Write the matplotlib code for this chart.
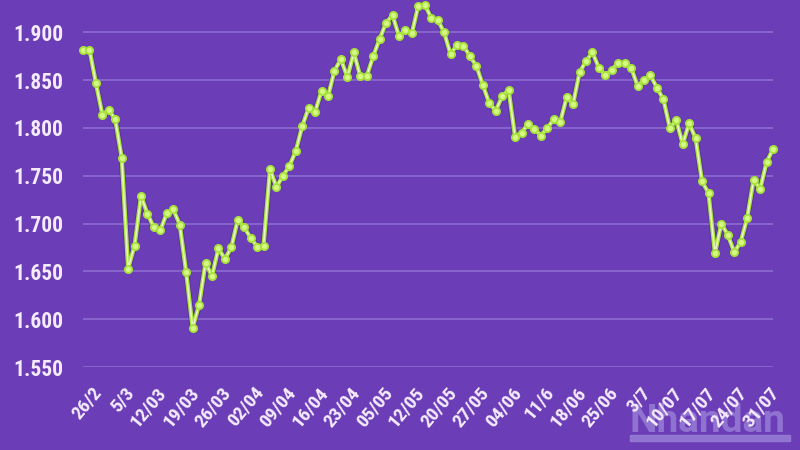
import matplotlib
matplotlib.use("Agg")
import matplotlib.pyplot as plt
import matplotlib.patheffects as pe
from matplotlib.transforms import ScaledTranslation
from matplotlib.patches import Rectangle

values = [
    1.881, 1.882, 1.847, 1.814, 1.819, 1.809, 1.769, 1.653, 1.677, 1.729,
    1.710, 1.696, 1.693, 1.711, 1.715, 1.699, 1.649, 1.591, 1.615, 1.659,
    1.645, 1.674, 1.663, 1.675, 1.704, 1.696, 1.685, 1.676, 1.677, 1.757,
    1.738, 1.750, 1.760, 1.776, 1.802, 1.821, 1.817, 1.839, 1.833, 1.860,
    1.872, 1.853, 1.879, 1.854, 1.854, 1.875, 1.893, 1.910, 1.918, 1.896,
    1.902, 1.899, 1.928, 1.929, 1.915, 1.913, 1.900, 1.877, 1.887, 1.886,
    1.875, 1.865, 1.845, 1.826, 1.818, 1.833, 1.840, 1.791, 1.795, 1.804,
    1.799, 1.792, 1.800, 1.809, 1.806, 1.832, 1.825, 1.858, 1.870, 1.879,
    1.863, 1.855, 1.861, 1.868, 1.868, 1.863, 1.844, 1.850, 1.855, 1.842,
    1.830, 1.800, 1.808, 1.783, 1.805, 1.789, 1.744, 1.732, 1.669, 1.700,
    1.688, 1.670, 1.681, 1.706, 1.746, 1.736, 1.764, 1.778,
]
x_labels = ["26/2", "5/3", "12/03", "19/03", "26/03", "02/04", "09/04", "16/04",
            "23/04", "05/05", "12/05", "20/05", "27/05", "04/06", "11/6", "18/06",
            "25/06", "3/7", "10/07", "17/07", "24/07", "31/07"]
label_step = 5
y_ticks = [1.55, 1.60, 1.65, 1.70, 1.75, 1.80, 1.85, 1.90]
y_tick_labels = ["1.550", "1.600", "1.650", "1.700", "1.750", "1.800", "1.850", "1.900"]

BG = "#6b3db6"
GRID = "#8b68cf"
TXT = "#f4ebff"
FONT = ["Roboto Condensed", "Liberation Sans Narrow", "Roboto", "DejaVu Sans"]

plt.rcParams["font.family"] = FONT

fig = plt.figure(figsize=(8, 4.5), dpi=100)
fig.patch.set_facecolor(BG)

# watermark (behind everything)
fig.text(630 / 800, 1 - 432 / 450, "Nhandan", fontsize=28, fontweight="bold",
         family=["Roboto", "DejaVu Sans"],
         color="#9a80d8", alpha=0.8, ha="left", va="baseline", zorder=0)
fig.patches.append(Rectangle((630 / 800, 1 - 441 / 450), 160 / 800, 6 / 450,
                             transform=fig.transFigure, color="#9a80d8", alpha=0.8,
                             zorder=0))

ax = fig.add_axes([83 / 800, 1 - 367 / 450, (773 - 83) / 800, 367 / 450])
ax.set_facecolor("none")
ax.set_zorder(5)

xs = list(range(len(values)))
ax.plot(xs, values, color="#a8e43a", lw=3.0, zorder=3, clip_on=False,
        path_effects=[pe.Stroke(linewidth=4.4, foreground="#4a2a85", alpha=0.45), pe.Normal()])
ax.plot(xs, values, color="#eef6cc", lw=1.1, zorder=4, clip_on=False)
ax.plot(xs, values, ls="none", marker="o", ms=5.2, mfc="#d6f685", mec="#a6e23a",
        mew=1.3, zorder=5, clip_on=False)

ax.set_xlim(0, len(values) - 1)
ax.set_ylim(1.55, 1.9338)

ax.set_yticks(y_ticks)
ax.set_yticklabels(y_tick_labels)
ax.set_xticks(list(range(0, len(values), label_step))[:len(x_labels)])
ax.set_xticklabels(x_labels)

for s in ax.spines.values():
    s.set_visible(False)
ax.grid(axis="y", color=GRID, lw=1.3, zorder=1)
ax.grid(axis="x", visible=False)
ax.tick_params(axis="both", length=0)
ax.tick_params(axis="y", pad=14, labelsize=15.5, labelcolor=TXT)
ax.tick_params(axis="x", pad=12, labelsize=14, labelcolor=TXT)

for lab in ax.get_yticklabels():
    lab.set_fontweight("bold")
offset = ScaledTranslation(9 / 100, 0, fig.dpi_scale_trans)
for lab in ax.get_xticklabels():
    lab.set_fontweight("bold")
    lab.set_rotation(50)
    lab.set_ha("right")
    lab.set_va("top")
    lab.set_rotation_mode("anchor")
    lab.set_transform(lab.get_transform() + offset)
    lab.set_zorder(10)

fig.savefig("out.png", dpi=100, facecolor=BG)
